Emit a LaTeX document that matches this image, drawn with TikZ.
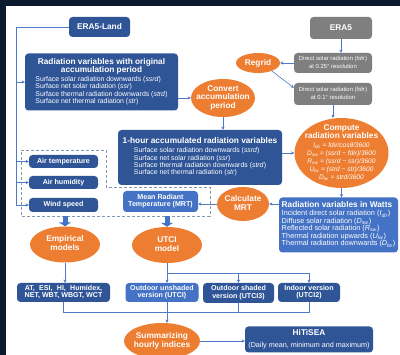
\documentclass[tikz,border=0pt]{standalone}
\usepackage{fontspec}
\setmainfont{Liberation Sans}
\usetikzlibrary{shapes.geometric,arrows.meta}
\definecolor{bgdark}{HTML}{0B1A2E}
\definecolor{dblue}{HTML}{2F5597}
\definecolor{lblue}{HTML}{4472C4}
\definecolor{gbox}{HTML}{7F7F7F}
\definecolor{orng}{HTML}{ED7D31}
\definecolor{lnc}{HTML}{4F7AC7}
\definecolor{dashc}{HTML}{8497B0}
\newcommand{\fT}{\fontsize{8.3}{8.6}\selectfont\bfseries}
\newcommand{\fB}{\fontsize{6.9}{7.4}\selectfont}
\newcommand{\fW}{\fontsize{7.3}{7.4}\selectfont}
\newcommand{\fS}{\fontsize{7.1}{7.6}\selectfont\bfseries}
\newcommand{\fF}{\fontsize{5.9}{7.3}\selectfont}
\newcommand{\fM}{\fontsize{6.6}{7.9}\selectfont}
\begin{document}
\begin{tikzpicture}[x=1pt,y=-1pt,
  box/.style={rectangle, rounded corners=3.5pt, text=white, inner sep=1pt, align=center},
  dbox/.style={box, fill=dblue},
  lbox/.style={box, fill=lblue},
  gybox/.style={box, fill=gbox},
  oval/.style={ellipse, fill=orng, text=white, inner sep=-20pt, align=center, font=\fT},
  conn/.style={draw=lnc, line width=0.6pt, -{Stealth[length=3.2pt,width=3.2pt]}},
  plain/.style={draw=lnc, line width=0.6pt},
  blockarr/.style={draw=lblue, line width=5pt, -{Triangle[length=4pt,width=12pt]}},
  dashreg/.style={draw=dashc, line width=0.8pt, dash pattern=on 3pt off 2pt},
]
\useasboundingbox (0,0) rectangle (400,355);
\fill[bgdark] (0,0) rectangle (400,355);
\fill[white] (6,6) rectangle (400,355);
\clip (0,0) rectangle (400,355);

% ---- nodes ----
\node[dbox, minimum width=61, minimum height=20, font=\fT] (era5land) at (99.5,27) {ERA5-Land};
\node[dbox, minimum width=153, minimum height=57] (radorig) at (101.5,82)
 {\fT\begin{tabular}{@{}c@{}}Radiation variables with original\\accumulation period\\[1pt]
  \fB\begin{tabular}{@{}l@{}}\mdseries Surface solar radiation downwards (\textit{ssrd})\\
  \mdseries Surface net solar radiation (\textit{ssr})\\
  \mdseries Surface thermal radiation downwards (\textit{strd})\\
  \mdseries Surface net thermal radiation (\textit{str})\end{tabular}\end{tabular}};

\node[gybox, minimum width=62, minimum height=22, font=\fT] (era5) at (341,28) {ERA5};
\node[gybox, minimum width=78, minimum height=20] (fdir25) at (333,63)
 {\fF\begin{tabular}{@{}c@{}}Direct solar radiation (\textit{fdir})\\at 0.25° resolution\end{tabular}};
\node[gybox, minimum width=78, minimum height=22] (fdir01) at (333,94)
 {\fF\begin{tabular}{@{}c@{}}Direct solar radiation (\textit{fdir})\\at 0.1° resolution\end{tabular}};
\node[oval, minimum width=44, minimum height=20] (regrid) at (258,63) {Regrid};
\node[oval, minimum width=64, minimum height=38] (convert) at (223,98)
 {\fT\begin{tabular}{@{}c@{}}Convert\\accumulation\\period\end{tabular}};

\node[dbox, minimum width=164, minimum height=55] (hour) at (200,157.5)
 {\fT\begin{tabular}{@{}c@{}}1-hour accumulated radiation variables\\[1pt]
  \fB\begin{tabular}{@{}l@{}}\mdseries Surface solar radiation downwards (\textit{ssrd})\\
  \mdseries Surface net solar radiation (\textit{ssr})\\
  \mdseries Surface thermal radiation downwards (\textit{strd})\\
  \mdseries Surface net thermal radiation (\textit{str})\end{tabular}\end{tabular}};

\node[oval, minimum width=94, minimum height=70] (compute) at (341.5,153)
 {\fT\begin{tabular}{@{}c@{}}Compute\\radiation variables\\[1pt]
  \fM\begin{tabular}{@{}c@{}}\mdseries\itshape I\textsubscript{dir} = fdir/cosθ/3600\\
  \mdseries\itshape D\textsubscript{sw} = (ssrd − fdir)/3600\\
  \mdseries\itshape R\textsubscript{sw} = (ssrd − ssr)/3600\\
  \mdseries\itshape U\textsubscript{lw} = (strd − str)/3600\\
  \mdseries\itshape D\textsubscript{lw} = strd/3600\end{tabular}\end{tabular}};

\node[lbox, minimum width=119, minimum height=55] (watts) at (338.5,225)
 {\fT\begin{tabular}{@{}l@{}}Radiation variables in Watts\\
  \fW\begin{tabular}{@{}l@{}}\mdseries Incident direct solar radiation (\textit{I}\textsubscript{\textit{dir}})\\
  \mdseries Diffuse solar radiation (\textit{D}\textsubscript{\textit{sw}})\\
  \mdseries Reflected solar radiation (\textit{R}\textsubscript{\textit{sw}})\\
  \mdseries Thermal radiation upwards (\textit{U}\textsubscript{\textit{lw}})\\
  \mdseries Thermal radiation downwards (\textit{D}\textsubscript{\textit{lw}})\end{tabular}\end{tabular}};

\node[oval, minimum width=52, minimum height=34] (calcmrt) at (243,204)
 {\fT\begin{tabular}{@{}c@{}}Calculate\\MRT\end{tabular}};
\node[lbox, minimum width=75, minimum height=21] (mrt) at (160.5,201.5)
 {\fS\begin{tabular}{@{}c@{}}Mean Radiant\\Temperature (MRT)\end{tabular}};

\node[dbox, minimum width=69, minimum height=13, font=\fS] (airT) at (63.5,161.5) {Air temperature};
\node[dbox, minimum width=69, minimum height=13, font=\fS] (airH) at (63.5,182.5) {Air humidity};
\node[dbox, minimum width=69, minimum height=14, font=\fS] (wind) at (63.5,205) {Wind speed};

\node[oval, minimum width=70, minimum height=36] (empirical) at (65,244.5)
 {\fT\begin{tabular}{@{}c@{}}Empirical\\models\end{tabular}};
\node[oval, minimum width=70, minimum height=36] (utci) at (167,245)
 {\fT\begin{tabular}{@{}c@{}}UTCI\\model\end{tabular}};

\node[dbox, minimum width=93, minimum height=19] (at) at (63.5,292.5)
 {\fS\begin{tabular}{@{}c@{}}AT,\hspace{.6em}ESI,\hspace{.6em}HI,\hspace{.6em}Humidex,\\NET, WBT, WBGT, WCT\end{tabular}};
\node[lbox, minimum width=73, minimum height=19] (unshaded) at (162,292.5)
 {\fS\begin{tabular}{@{}c@{}}Outdoor unshaded\\version (UTCI)\end{tabular}};
\node[dbox, minimum width=71, minimum height=20] (shaded) at (238.5,293)
 {\fS\begin{tabular}{@{}c@{}}Outdoor shaded\\version (UTCI3)\end{tabular}};
\node[dbox, minimum width=62, minimum height=19] (indoor) at (309,292.5)
 {\fS\begin{tabular}{@{}c@{}}Indoor version\\(UTCI2)\end{tabular}};

\node[oval, minimum width=76, minimum height=36] (summ) at (162,341)
 {\fT\begin{tabular}{@{}c@{}}Summarizing\\hourly indices\end{tabular}};
\node[dbox, minimum width=128, minimum height=24] (hitisea) at (309,339.5)
 {\begin{tabular}{@{}c@{}}\fT HiTiSEA\\ \fontsize{7.2}{8}\selectfont (Daily mean, minimum and maximum)\end{tabular}};

% ---- dashed region ----
\draw[dashreg] (21,150) -- (106,150) -- (106,187) -- (210,187) -- (210,216) -- (21,216) -- cycle;

% ---- connectors ----
\coordinate (lt) at (16,27);
\draw[conn] (era5land.west) -- (lt) -- (lt |- wind.west) -- (wind.west);
\draw[conn] (lt |- radorig.west) -- (radorig.west);
\draw[conn] (lt |- airT.west) -- (airT.west);
\draw[conn] (lt |- airH.west) -- (airH.west);

\draw[conn] (radorig.east |- convert.west) -- (convert.west);
\draw[conn] (era5.south) -- (era5.south |- fdir25.north);
\draw[conn] (fdir25.west) -- (regrid.east);
\draw[conn] (regrid.-30) -- ([yshift=-5pt]fdir01.north west);
\draw[conn] (fdir01.south) -- (fdir01.south |- compute.north);
\draw[conn] (convert.south) -- (convert.south |- hour.north);
\draw[conn] (hour.east |- compute.west) -- (compute.west);
\draw[conn] (compute.south) -- (compute.south |- watts.north);
\draw[conn] (watts.west |- calcmrt.east) -- (calcmrt.east);
\draw[conn] (calcmrt.west) -- (calcmrt.west -| mrt.east);

\coordinate (dl) at (65,216);
\coordinate (dr) at (167,216);
\draw[blockarr] (dl) -- (empirical.north);
\draw[blockarr] (dr) -- (utci.north);

\draw[conn] (empirical.south) -- (empirical.south |- at.north);
\coordinate (ub) at (167,273);
\draw[conn] (utci.south) -- (utci.south |- unshaded.north);
\draw[conn] (ub) -| (shaded.north);
\draw[conn] (ub) -| (indoor.north);

\coordinate (cl) at (167,312);
\draw[plain] (at.south) -- (at.south |- cl) -- (indoor.south |- cl) -- (indoor.south);
\draw[plain] (shaded.south) -- (shaded.south |- cl);
\draw[conn] (utci.south |- unshaded.south) -- (utci.south |- summ.north);
\draw[conn] (summ.east) -- (summ.east -| hitisea.west);
\end{tikzpicture}
\end{document}
